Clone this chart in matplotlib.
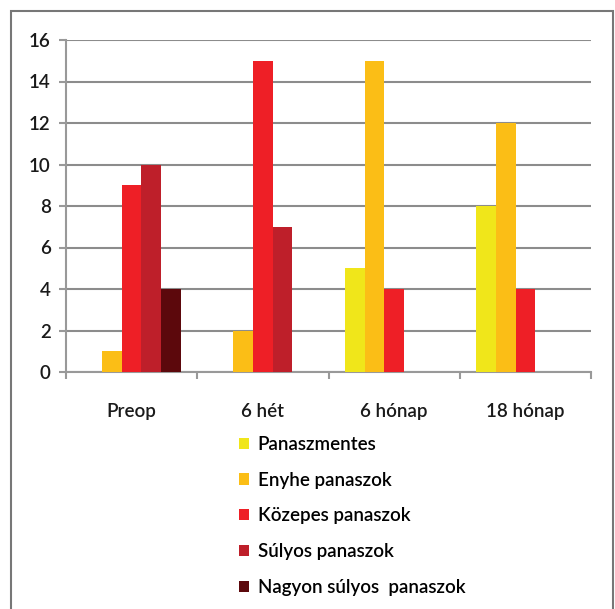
import matplotlib
matplotlib.use("Agg")
import matplotlib.pyplot as plt
import numpy as np
from matplotlib.patches import Rectangle, Patch

categories = ["Preop", "6 hét", "6 hónap", "18 hónap"]
series = [
    "Panaszmentes",
    "Enyhe panaszok",
    "Közepes panaszok",
    "Súlyos panaszok",
    "Nagyon súlyos  panaszok",
]
panaszmentes = [0, 0, 5, 8]
enyhe = [1, 2, 15, 12]
kozepes = [9, 15, 4, 4]
sulyos = [10, 7, 0, 0]
nagyon_sulyos = [4, 0, 0, 0]
values = [panaszmentes, enyhe, kozepes, sulyos, nagyon_sulyos]
colors = ["#f0e61a", "#fbbe16", "#ee1f26", "#be1f2a", "#5c080c"]

plt.rcParams["font.family"] = ["Lato", "DejaVu Sans"]
plt.rcParams["font.weight"] = "semibold"

W, H = 615, 609
fig = plt.figure(figsize=(W / 100, H / 100), dpi=100)
ax = fig.add_axes([66 / W, 1 - 372 / H, (591 - 66) / W, (372 - 40) / H])

x = np.arange(len(categories))
bw = 0.15
for i, (vals, col, name) in enumerate(zip(values, colors, series)):
    ax.bar(x + (i - 2) * bw, vals, bw, color=col, label=name, zorder=3)

ax.set_xlim(-0.5, len(categories) - 0.5)
ax.set_ylim(0, 16)
ax.set_yticks(range(0, 17, 2))
ax.set_xticks(x)
ax.set_xticklabels(categories)
ax.set_xticks(np.arange(-0.5, len(categories)), minor=True)
ax.tick_params(axis="x", which="major", length=0, pad=22, labelsize=13.5, labelcolor="#1a1a1a")
ax.tick_params(axis="x", which="minor", length=5, width=1.5, color="#999999")
ax.tick_params(axis="y", length=5, width=1.5, color="#999999", pad=6, labelsize=13.5, labelcolor="#1a1a1a")

ax.grid(axis="y", color="#8c8c8c", linewidth=1.5, zorder=0)
for s in ["top", "right"]:
    ax.spines[s].set_visible(False)
for s in ["left", "bottom"]:
    ax.spines[s].set_color("#999999")
    ax.spines[s].set_linewidth(1.5)

handles = [Patch(facecolor=c, label=n) for c, n in zip(colors, series)]
fig.legend(handles=handles, loc="upper left", bbox_to_anchor=(222 / W, 1 - 419 / H),
           frameon=False, fontsize=13.5, handlelength=0.55, handleheight=0.55,
           handletextpad=0.45, labelspacing=1.0)

fig.patches.append(Rectangle((11 / W, -0.05), (613 - 11) / W, 1 - 11 / H + 0.05,
                             transform=fig.transFigure, fill=False,
                             edgecolor="#777777", linewidth=1.5))

fig.savefig("out.png", dpi=100)
